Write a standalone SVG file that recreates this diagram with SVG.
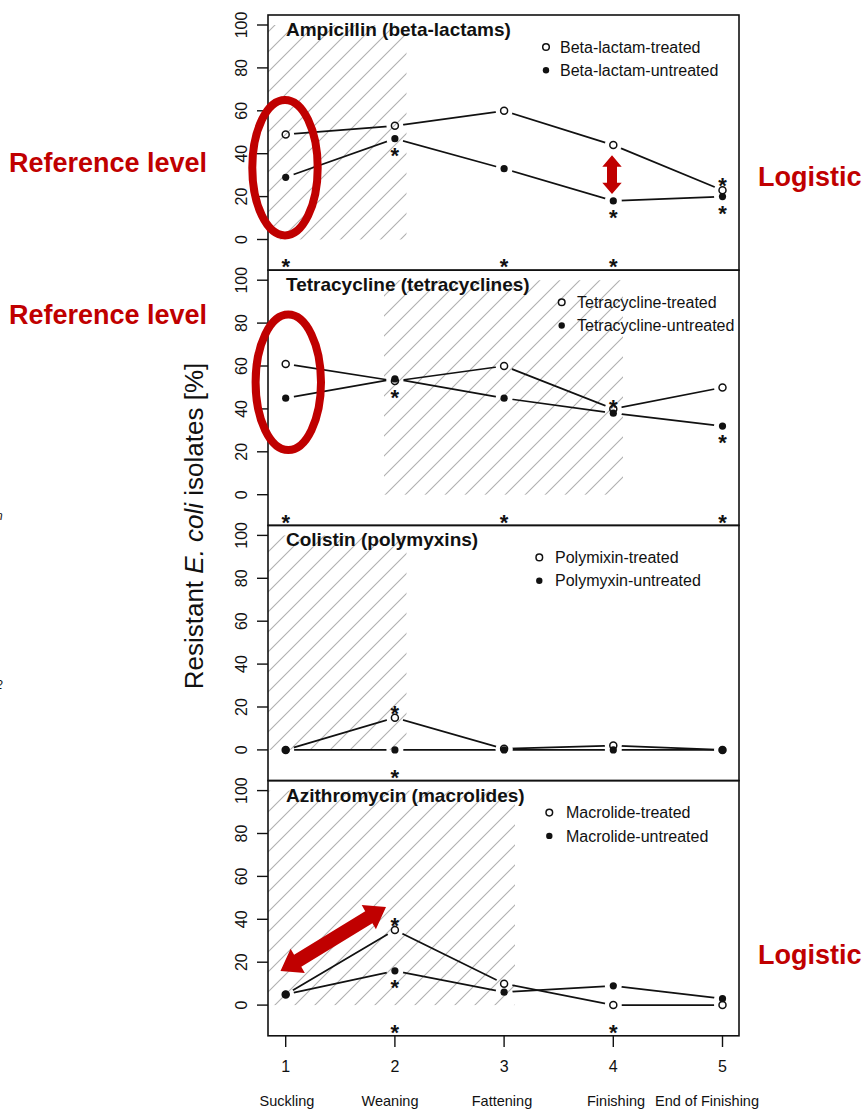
<svg xmlns="http://www.w3.org/2000/svg" width="863" height="1110" viewBox="0 0 863 1110">
<style>
text{font-family:"Liberation Sans",Arial,sans-serif;fill:#111}
.title{font-size:19px;font-weight:bold}
.leg{font-size:16px}
.yt{font-size:16px;text-anchor:middle}
.xt{font-size:16px;text-anchor:middle}
.stage{font-size:14.5px;text-anchor:middle}
.star{font-size:22px;font-weight:bold;text-anchor:middle}
.red{font-size:27px;font-weight:bold;fill:#c00000}
.frame{fill:none;stroke:#111;stroke-width:1.6}
.tick{stroke:#111;stroke-width:1.4}
.hatch{fill:url(#hatch)}
.ln{fill:none;stroke:#111;stroke-width:1.7}
.op{fill:none;stroke:#111;stroke-width:1.5}
.fp{fill:#111}
.ell{fill:none;stroke:#c00000;stroke-width:8}
.arr{fill:#c00000}
</style>
<defs>
<pattern id="hatch" patternUnits="userSpaceOnUse" width="20" height="20">
<path d="M-5,5 L5,-5 M0,20 L20,0 M15,25 L25,15" stroke="#b0b0b0" stroke-width="1.1"/>
</pattern>
<mask id="gaps" maskUnits="userSpaceOnUse" x="0" y="0" width="863" height="1110">
<rect x="0" y="0" width="863" height="1110" fill="#fff"/>
<g fill="#000">
<circle cx="285.7" cy="134.4" r="8.5"/><circle cx="394.9" cy="125.8" r="8.5"/><circle cx="504.1" cy="110.8" r="8.5"/><circle cx="613.3" cy="145.1" r="8.5"/><circle cx="722.5" cy="190.2" r="8.5"/>
<circle cx="285.7" cy="177.3" r="8.5"/><circle cx="394.9" cy="138.7" r="8.5"/><circle cx="504.1" cy="168.7" r="8.5"/><circle cx="613.3" cy="200.9" r="8.5"/><circle cx="722.5" cy="196.6" r="8.5"/>
<circle cx="285.7" cy="363.9" r="8.5"/><circle cx="394.9" cy="381" r="8.5"/><circle cx="504.1" cy="366" r="8.5"/><circle cx="613.3" cy="408.9" r="8.5"/><circle cx="722.5" cy="387.5" r="8.5"/>
<circle cx="285.7" cy="398.2" r="8.5"/><circle cx="394.9" cy="378.9" r="8.5"/><circle cx="504.1" cy="398.2" r="8.5"/><circle cx="613.3" cy="413.2" r="8.5"/><circle cx="722.5" cy="426.1" r="8.5"/>
<circle cx="285.7" cy="749.9" r="8.5"/><circle cx="394.9" cy="717.7" r="8.5"/><circle cx="504.1" cy="748.8" r="8.5"/><circle cx="613.3" cy="745.6" r="8.5"/><circle cx="722.5" cy="749.9" r="8.5"/>
<circle cx="394.9" cy="749.9" r="8.5"/><circle cx="504.1" cy="749.9" r="8.5"/><circle cx="613.3" cy="749.9" r="8.5"/>
<circle cx="285.7" cy="994.4" r="8.5"/><circle cx="394.9" cy="930" r="8.5"/><circle cx="504.1" cy="983.7" r="8.5"/><circle cx="613.3" cy="1005.1" r="8.5"/><circle cx="722.5" cy="1005.1" r="8.5"/>
<circle cx="394.9" cy="970.8" r="8.5"/><circle cx="504.1" cy="992.2" r="8.5"/><circle cx="613.3" cy="985.8" r="8.5"/><circle cx="722.5" cy="998.7" r="8.5"/>
</g>
</mask>
</defs>
<rect x="0" y="0" width="863" height="1110" fill="#fff"/>

<!-- Panel 1 -->
<g id="panel-ampicillin">
<rect class="hatch" x="268" y="25" width="138.5" height="214.5"/>
<rect class="frame" x="268" y="15" width="471" height="255.2"/>
<g class="tick"><line x1="257" y1="25" x2="268" y2="25"/><line x1="257" y1="67.9" x2="268" y2="67.9"/><line x1="257" y1="110.8" x2="268" y2="110.8"/><line x1="257" y1="153.7" x2="268" y2="153.7"/><line x1="257" y1="196.6" x2="268" y2="196.6"/><line x1="257" y1="239.5" x2="268" y2="239.5"/></g>
<text class="yt" transform="translate(247,25) rotate(-90)">100</text>
<text class="yt" transform="translate(247,67.9) rotate(-90)">80</text>
<text class="yt" transform="translate(247,110.8) rotate(-90)">60</text>
<text class="yt" transform="translate(247,153.7) rotate(-90)">40</text>
<text class="yt" transform="translate(247,196.6) rotate(-90)">20</text>
<text class="yt" transform="translate(247,239.5) rotate(-90)">0</text>
<text class="title" x="286" y="36">Ampicillin (beta-lactams)</text>
<circle class="op" cx="546" cy="47" r="3.3"/><circle class="fp" cx="546" cy="70.3" r="3.2"/>
<text class="leg" x="560" y="52.7">Beta-lactam-treated</text>
<text class="leg" x="560" y="76">Beta-lactam-untreated</text>
</g>

<!-- Panel 2 -->
<g id="panel-tetracycline">
<rect class="hatch" x="384" y="280.2" width="239" height="214.5"/>
<rect class="frame" x="268" y="270.2" width="471" height="255.2"/>
<g class="tick"><line x1="257" y1="280.2" x2="268" y2="280.2"/><line x1="257" y1="323.1" x2="268" y2="323.1"/><line x1="257" y1="366" x2="268" y2="366"/><line x1="257" y1="408.9" x2="268" y2="408.9"/><line x1="257" y1="451.8" x2="268" y2="451.8"/><line x1="257" y1="494.7" x2="268" y2="494.7"/></g>
<text class="yt" transform="translate(247,280.2) rotate(-90)">100</text>
<text class="yt" transform="translate(247,323.1) rotate(-90)">80</text>
<text class="yt" transform="translate(247,366) rotate(-90)">60</text>
<text class="yt" transform="translate(247,408.9) rotate(-90)">40</text>
<text class="yt" transform="translate(247,451.8) rotate(-90)">20</text>
<text class="yt" transform="translate(247,494.7) rotate(-90)">0</text>
<text class="title" x="286" y="291.2">Tetracycline (tetracyclines)</text>
<circle class="op" cx="561.7" cy="302.2" r="3.3"/><circle class="fp" cx="561.7" cy="325.5" r="3.2"/>
<text class="leg" x="577" y="307.9">Tetracycline-treated</text>
<text class="leg" x="577" y="331.2">Tetracycline-untreated</text>
</g>

<!-- Panel 3 -->
<g id="panel-colistin">
<rect class="hatch" x="268" y="535.4" width="138.5" height="214.5"/>
<rect class="frame" x="268" y="525.4" width="471" height="255.2"/>
<g class="tick"><line x1="257" y1="535.4" x2="268" y2="535.4"/><line x1="257" y1="578.3" x2="268" y2="578.3"/><line x1="257" y1="621.2" x2="268" y2="621.2"/><line x1="257" y1="664.1" x2="268" y2="664.1"/><line x1="257" y1="707" x2="268" y2="707"/><line x1="257" y1="749.9" x2="268" y2="749.9"/></g>
<text class="yt" transform="translate(247,535.4) rotate(-90)">100</text>
<text class="yt" transform="translate(247,578.3) rotate(-90)">80</text>
<text class="yt" transform="translate(247,621.2) rotate(-90)">60</text>
<text class="yt" transform="translate(247,664.1) rotate(-90)">40</text>
<text class="yt" transform="translate(247,707) rotate(-90)">20</text>
<text class="yt" transform="translate(247,749.9) rotate(-90)">0</text>
<text class="title" x="286" y="546.4">Colistin (polymyxins)</text>
<circle class="op" cx="539.3" cy="557.4" r="3.3"/><circle class="fp" cx="539.3" cy="580.7" r="3.2"/>
<text class="leg" x="555" y="563.1">Polymixin-treated</text>
<text class="leg" x="555" y="586.4">Polymyxin-untreated</text>
</g>

<!-- Panel 4 -->
<g id="panel-azithromycin">
<rect class="hatch" x="268" y="790.6" width="247" height="214.5"/>
<rect class="frame" x="268" y="780.6" width="471" height="255.2"/>
<g class="tick"><line x1="257" y1="790.6" x2="268" y2="790.6"/><line x1="257" y1="833.5" x2="268" y2="833.5"/><line x1="257" y1="876.4" x2="268" y2="876.4"/><line x1="257" y1="919.3" x2="268" y2="919.3"/><line x1="257" y1="962.2" x2="268" y2="962.2"/><line x1="257" y1="1005.1" x2="268" y2="1005.1"/></g>
<text class="yt" transform="translate(247,790.6) rotate(-90)">100</text>
<text class="yt" transform="translate(247,833.5) rotate(-90)">80</text>
<text class="yt" transform="translate(247,876.4) rotate(-90)">60</text>
<text class="yt" transform="translate(247,919.3) rotate(-90)">40</text>
<text class="yt" transform="translate(247,962.2) rotate(-90)">20</text>
<text class="yt" transform="translate(247,1005.1) rotate(-90)">0</text>
<text class="title" x="286" y="801.6">Azithromycin (macrolides)</text>
<circle class="op" cx="549.3" cy="812.6" r="3.3"/><circle class="fp" cx="549.3" cy="835.9" r="3.2"/>
<text class="leg" x="566" y="818.3">Macrolide-treated</text>
<text class="leg" x="566" y="841.6">Macrolide-untreated</text>
</g>

<!-- X axis -->
<g id="x-axis">
<g class="tick"><line x1="285.7" y1="1035.8" x2="285.7" y2="1047"/><line x1="394.9" y1="1035.8" x2="394.9" y2="1047"/><line x1="504.1" y1="1035.8" x2="504.1" y2="1047"/><line x1="613.3" y1="1035.8" x2="613.3" y2="1047"/><line x1="722.5" y1="1035.8" x2="722.5" y2="1047"/></g>
<text class="xt" x="285.7" y="1071.5">1</text>
<text class="xt" x="394.9" y="1071.5">2</text>
<text class="xt" x="504.1" y="1071.5">3</text>
<text class="xt" x="613.3" y="1071.5">4</text>
<text class="xt" x="722.5" y="1071.5">5</text>
<text class="stage" x="287" y="1106">Suckling</text>
<text class="stage" x="390" y="1106">Weaning</text>
<text class="stage" x="502" y="1106">Fattening</text>
<text class="stage" x="616" y="1106">Finishing</text>
<text class="stage" x="707" y="1106">End of Finishing</text>
</g>

<text id="y-label" transform="translate(203,526) rotate(-90)" text-anchor="middle" font-size="26">Resistant <tspan font-style="italic">E. coli</tspan> isolates [%]</text>

<!-- Connectors (data lines) -->
<g id="connectors" class="ln" mask="url(#gaps)">
<polyline points="285.7,134.4 394.9,125.8 504.1,110.8 613.3,145.1 722.5,190.2"/>
<polyline points="285.7,177.3 394.9,138.7 504.1,168.7 613.3,200.9 722.5,196.6"/>
<polyline points="285.7,363.9 394.9,381 504.1,366 613.3,408.9 722.5,387.5"/>
<polyline points="285.7,398.2 394.9,378.9 504.1,398.2 613.3,413.2 722.5,426.1"/>
<polyline points="285.7,749.9 394.9,717.7 504.1,748.8 613.3,745.6 722.5,749.9"/>
<polyline points="285.7,749.9 394.9,749.9 504.1,749.9 613.3,749.9 722.5,749.9"/>
<polyline points="285.7,994.4 394.9,930 504.1,983.7 613.3,1005.1 722.5,1005.1"/>
<polyline points="285.7,994.4 394.9,970.8 504.1,992.2 613.3,985.8 722.5,998.7"/>
</g>

<!-- Points -->
<g id="points">
<g class="op">
<circle cx="285.7" cy="134.4" r="3.5"/><circle cx="394.9" cy="125.8" r="3.5"/><circle cx="504.1" cy="110.8" r="3.5"/><circle cx="613.3" cy="145.1" r="3.5"/><circle cx="722.5" cy="190.2" r="3.5"/>
<circle cx="285.7" cy="363.9" r="3.5"/><circle cx="394.9" cy="381" r="3.5"/><circle cx="504.1" cy="366" r="3.5"/><circle cx="613.3" cy="408.9" r="3.5"/><circle cx="722.5" cy="387.5" r="3.5"/>
<circle cx="285.7" cy="749.9" r="3.5"/><circle cx="394.9" cy="717.7" r="3.5"/><circle cx="504.1" cy="748.8" r="3.5"/><circle cx="613.3" cy="745.6" r="3.5"/><circle cx="722.5" cy="749.9" r="3.5"/>
<circle cx="285.7" cy="994.4" r="3.5"/><circle cx="394.9" cy="930" r="3.5"/><circle cx="504.1" cy="983.7" r="3.5"/><circle cx="613.3" cy="1005.1" r="3.5"/><circle cx="722.5" cy="1005.1" r="3.5"/>
</g>
<g class="fp">
<circle cx="285.7" cy="177.3" r="3.6"/><circle cx="394.9" cy="138.7" r="3.6"/><circle cx="504.1" cy="168.7" r="3.6"/><circle cx="613.3" cy="200.9" r="3.6"/><circle cx="722.5" cy="196.6" r="3.6"/>
<circle cx="285.7" cy="398.2" r="3.6"/><circle cx="394.9" cy="378.9" r="3.6"/><circle cx="504.1" cy="398.2" r="3.6"/><circle cx="613.3" cy="413.2" r="3.6"/><circle cx="722.5" cy="426.1" r="3.6"/>
<circle cx="285.7" cy="749.9" r="3.6"/><circle cx="394.9" cy="749.9" r="3.6"/><circle cx="504.1" cy="749.9" r="3.6"/><circle cx="613.3" cy="749.9" r="3.6"/><circle cx="722.5" cy="749.9" r="3.6"/>
<circle cx="285.7" cy="994.4" r="3.6"/><circle cx="394.9" cy="970.8" r="3.6"/><circle cx="504.1" cy="992.2" r="3.6"/><circle cx="613.3" cy="985.8" r="3.6"/><circle cx="722.5" cy="998.7" r="3.6"/>
</g>
</g>

<!-- Significance stars -->
<g id="stars">
<text class="star" x="394.9" y="163">*</text>
<text class="star" x="613.3" y="225">*</text>
<text class="star" x="722.5" y="192.5">*</text>
<text class="star" x="722.5" y="221">*</text>
<text class="star" x="285.7" y="274">*</text>
<text class="star" x="504.1" y="274">*</text>
<text class="star" x="613.3" y="274">*</text>
<text class="star" x="394.9" y="405">*</text>
<text class="star" x="613.3" y="414.5">*</text>
<text class="star" x="722.5" y="450">*</text>
<text class="star" x="285.7" y="530">*</text>
<text class="star" x="504.1" y="530">*</text>
<text class="star" x="722.5" y="530">*</text>
<text class="star" x="394.9" y="721">*</text>
<text class="star" x="394.9" y="785">*</text>
<text class="star" x="394.9" y="933">*</text>
<text class="star" x="394.9" y="995.3">*</text>
<text class="star" x="394.9" y="1040.3">*</text>
<text class="star" x="613.3" y="1040.3">*</text>
</g>

<!-- Red annotations -->
<g id="annotations">
<ellipse class="ell" cx="285" cy="167.7" rx="32.7" ry="67.7"/>
<ellipse class="ell" cx="288.3" cy="382.3" rx="32.7" ry="67.7"/>
<polygon class="arr" points="612,155.3 621.7,166.7 617,166.7 617,182.7 621.7,182.7 612,194 602.3,182.7 607,182.7 607,166.7 602.3,166.7"/>
<polygon class="arr" points="280.5,971 290.6,948.7 294.1,954.8 365.2,911.2 361.7,905.1 386,907 375.9,929.3 372.4,923.2 301.3,966.8 304.8,972.9"/>
<text class="red" x="9" y="171.5">Reference level</text>
<text class="red" x="9" y="324">Reference level</text>
<text class="red" x="758" y="185.5">Logistic</text>
<text class="red" x="758" y="964">Logistic</text>
</g>

<text x="-4" y="520" font-size="12" font-style="italic">n</text>
<text x="-4" y="689" font-size="12" font-style="italic">2</text>
</svg>
